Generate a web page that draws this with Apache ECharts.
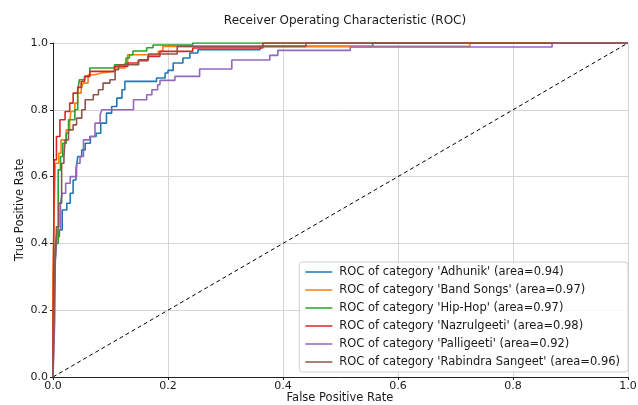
<!DOCTYPE html>
<html>
<head>
<meta charset="utf-8">
<script src="https://cdn.jsdelivr.net/npm/echarts@6/dist/echarts.min.js"></script>
<style>
  html, body { margin: 0; padding: 0; background: #fff; }
  #chart { width: 638px; height: 405px; }
</style>
</head>
<body>
<div id="chart"></div>
<script>
// Class names and their AUC values
const categories = ['Adhunik', 'Band Songs', 'Hip-Hop', 'Nazrulgeeti', 'Palligeeti', 'Rabindra Sangeet'];
const areas = [0.94, 0.97, 0.97, 0.98, 0.92, 0.96];

// ROC points: at each false positive rate the curve rises to the true positive rate
const fprAdhunik = [0, 0, 0.003, 0.006, 0.011, 0.016, 0.024, 0.030, 0.035, 0.040, 0.043, 0.050, 0.056, 0.065, 0.075, 0.083, 0.093, 0.102, 0.111, 0.120, 0.125, 0.180, 0.195, 0.200, 0.209, 0.226, 0.238, 0.252, 0.360, 0.556, 1.0];
const tprAdhunik = [0, 0.06, 0.33, 0.42, 0.44, 0.50, 0.52, 0.55, 0.59, 0.62, 0.66, 0.68, 0.70, 0.72, 0.73, 0.76, 0.79, 0.81, 0.835, 0.86, 0.885, 0.895, 0.91, 0.918, 0.94, 0.955, 0.97, 0.98, 0.99, 1.0, 1.0];

const fprBand = [0, 0, 0.002, 0.004, 0.010, 0.014, 0.023, 0.029, 0.031, 0.038, 0.043, 0.049, 0.052, 0.061, 0.073, 0.084, 0.107, 0.125, 0.130, 0.183, 0.191, 0.725, 1.0];
const tprBand = [0, 0.30, 0.50, 0.64, 0.67, 0.71, 0.74, 0.76, 0.795, 0.82, 0.85, 0.86, 0.88, 0.905, 0.91, 0.915, 0.925, 0.94, 0.965, 0.975, 0.99, 1.0, 1.0];

const fprHipHop = [0, 0.002, 0.004, 0.009, 0.013, 0.017, 0.023, 0.027, 0.038, 0.043, 0.046, 0.055, 0.064, 0.107, 0.127, 0.133, 0.139, 0.163, 0.174, 0.243, 1.0];
const tprHipHop = [0, 0.25, 0.40, 0.62, 0.66, 0.70, 0.73, 0.77, 0.80, 0.86, 0.89, 0.90, 0.925, 0.935, 0.955, 0.965, 0.976, 0.986, 0.994, 1.0, 1.0];

const fprNazrul = [0, 0, 0.001, 0.002, 0.006, 0.012, 0.021, 0.029, 0.035, 0.043, 0.049, 0.055, 0.064, 0.107, 0.130, 0.148, 0.165, 0.186, 0.243, 0.365, 1.0];
const tprNazrul = [0, 0.17, 0.35, 0.65, 0.72, 0.77, 0.795, 0.82, 0.85, 0.867, 0.885, 0.90, 0.915, 0.93, 0.94, 0.947, 0.96, 0.975, 0.985, 1.0, 1.0];

const fprPalli = [0, 0.003, 0.004, 0.006, 0.008, 0.013, 0.016, 0.022, 0.030, 0.041, 0.047, 0.053, 0.064, 0.073, 0.082, 0.085, 0.140, 0.163, 0.172, 0.182, 0.186, 0.212, 0.255, 0.311, 0.377, 0.391, 0.517, 0.868, 1.0];
const tprPalli = [0, 0.17, 0.35, 0.40, 0.44, 0.52, 0.55, 0.58, 0.60, 0.64, 0.66, 0.71, 0.72, 0.76, 0.785, 0.80, 0.83, 0.845, 0.86, 0.875, 0.888, 0.90, 0.922, 0.949, 0.963, 0.978, 0.988, 1.0, 1.0];

const fprRabindra = [0, 0.002, 0.003, 0.006, 0.010, 0.015, 0.019, 0.021, 0.027, 0.035, 0.041, 0.050, 0.056, 0.070, 0.079, 0.087, 0.099, 0.108, 0.114, 0.149, 0.166, 0.216, 0.440, 1.0];
const tprRabindra = [0, 0.20, 0.30, 0.45, 0.52, 0.64, 0.66, 0.71, 0.74, 0.755, 0.775, 0.80, 0.83, 0.845, 0.86, 0.88, 0.89, 0.92, 0.935, 0.95, 0.967, 0.99, 1.0, 1.0];

// Chance line
const chanceX = [0, 1];
const chanceY = [0, 1];

const colors = ['#1f77b4', '#ff7f0e', '#2ca02c', '#d62728', '#9467bd', '#8c564b'];
const curves = [
  [fprAdhunik, tprAdhunik],
  [fprBand, tprBand],
  [fprHipHop, tprHipHop],
  [fprNazrul, tprNazrul],
  [fprPalli, tprPalli],
  [fprRabindra, tprRabindra]
];

// Expand rise points into a staircase: hold the previous TPR until the next FPR, then rise
function staircase(fpr, tpr) {
  const pts = [[fpr[0], tpr[0]]];
  for (let i = 1; i < fpr.length; i++) {
    pts.push([fpr[i], tpr[i - 1]]);
    pts.push([fpr[i], tpr[i]]);
  }
  return pts;
}

const FONT = 'DejaVu Sans';
const TEXT = '#1a1a1a';
const names = categories.map((c, i) => `ROC of category '${c}' (area=${areas[i].toFixed(2)})`);

const series = curves.map((c, i) => ({
  name: names[i],
  type: 'line',
  data: staircase(c[0], c[1]),
  showSymbol: false,
  symbol: 'none',
  lineStyle: { color: colors[i], width: 1.6 },
  itemStyle: { color: colors[i] },
  animation: false,
  z: 3 + i
}));

series.push({
  name: 'chance',
  type: 'line',
  data: chanceX.map((x, i) => [x, chanceY[i]]),
  symbol: 'none',
  lineStyle: { color: '#000', width: 1, type: [4, 3] },
  animation: false,
  z: 2
});

const chart = echarts.init(document.getElementById('chart'), null, { renderer: 'canvas' });
chart.setOption({
  animation: false,
  backgroundColor: '#fff',
  title: {
    text: 'Receiver Operating Characteristic (ROC)',
    left: 340,
    top: 10,
    textAlign: 'center',
    textStyle: { fontFamily: FONT, fontSize: 12, fontWeight: 'normal', color: TEXT }
  },
  grid: { left: 53, right: 10, top: 43, bottom: 28, containLabel: false, outerBoundsMode: 'none' },
  // Axis titles
  graphic: [
    {
      type: 'text', x: 340, y: 398, z: 10,
      style: { text: 'False Positive Rate', font: `11.5px "${FONT}"`, fill: TEXT, textAlign: 'center', textVerticalAlign: 'middle' }
    },
    {
      type: 'text', x: 20, y: 210, rotation: Math.PI / 2, z: 10,
      style: { text: 'True Positive Rate', font: `11.5px "${FONT}"`, fill: TEXT, textAlign: 'center', textVerticalAlign: 'middle' }
    }
  ],
  xAxis: {
    type: 'value',
    min: 0, max: 1, interval: 0.2,
    axisLine: { show: true, lineStyle: { color: '#222', width: 1 } },
    axisTick: { show: true, length: 3, lineStyle: { color: '#222' } },
    axisLabel: { fontFamily: FONT, fontSize: 11, color: TEXT, margin: 4, formatter: v => v.toFixed(1) },
    splitLine: { show: true, lineStyle: { color: '#d6d6d6', width: 1 } }
  },
  yAxis: {
    type: 'value',
    min: 0, max: 1, interval: 0.2,
    axisLine: { show: true, lineStyle: { color: '#222', width: 1 } },
    axisTick: { show: true, length: 3, lineStyle: { color: '#222' } },
    axisLabel: { fontFamily: FONT, fontSize: 11, color: TEXT, margin: 5, formatter: v => v.toFixed(1) },
    splitLine: { show: true, lineStyle: { color: '#d6d6d6', width: 1 } }
  },
  legend: {
    data: names,
    orient: 'vertical',
    right: 10,
    bottom: 33,
    icon: 'rect',
    itemWidth: 27,
    itemHeight: 1.5,
    itemGap: 6,
    padding: [4, 8, 4, 6],
    backgroundColor: 'rgba(255,255,255,0.85)',
    borderColor: '#d0d0d0',
    borderWidth: 1,
    borderRadius: 3,
    textStyle: { fontFamily: FONT, fontSize: 11.5, color: TEXT, padding: [0, 0, 0, 2] }
  },
  series: series
});
</script>
</body>
</html>
